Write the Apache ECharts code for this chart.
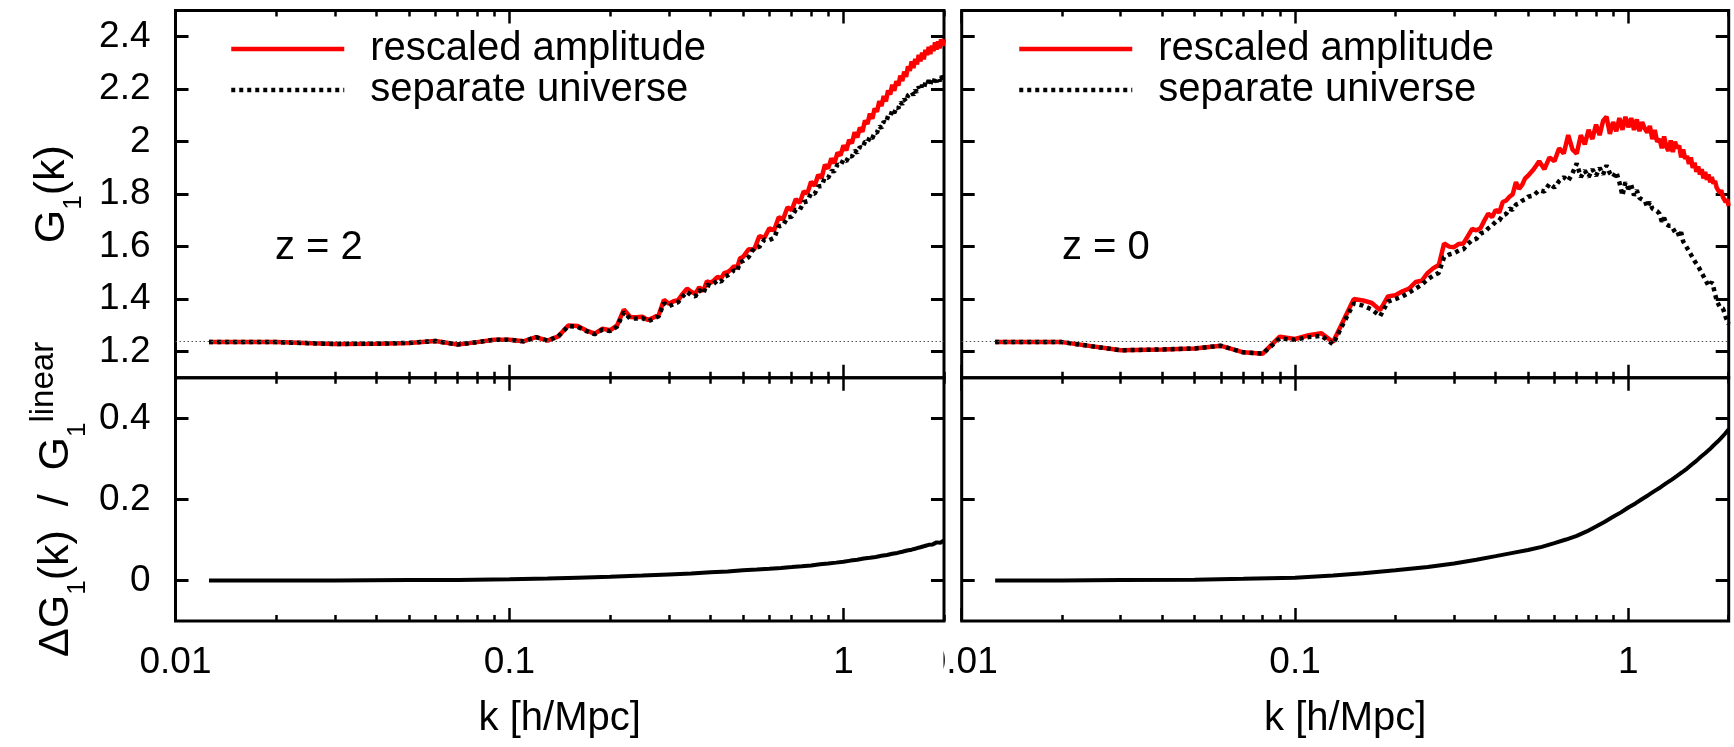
<!DOCTYPE html>
<html><head><meta charset="utf-8">
<script src="https://cdn.jsdelivr.net/npm/echarts@6/dist/echarts.min.js"></script>
<style>html,body{margin:0;padding:0;background:#fff}#c{width:1734px;height:747px}</style>
</head><body><div id="c"></div>
<script>
// ---- data ----
const K = [0.0126,0.02,0.03,0.04,0.05,0.06,0.07,0.08,0.09,0.10,
 0.11,0.12,0.13,0.14,0.15,0.16,0.17,0.18,0.19,0.20,
 0.21,0.22,0.23,0.24,0.25,0.26,0.27,0.28,0.29,0.30,
 0.31,0.32,0.33,0.34,0.35,0.36,0.37,0.38,0.39,0.40,
 0.41,0.42,0.43,0.44,0.45,0.46,0.47,0.48,0.49,0.50,
 0.52,0.54,0.56,0.58,0.60,0.62,0.64,0.66,0.68,0.70,
 0.72,0.74,0.76,0.78,0.80,0.82,0.84,0.86,0.88,0.90,
 0.92,0.94,0.96,0.98,1.00,1.02,1.04,1.06,1.08,1.10,
 1.12,1.14,1.16,1.18,1.20,1.22,1.24,1.26,1.28,1.30,
 1.32,1.34,1.36,1.38,1.40,1.42,1.44,1.46,1.48,1.50,
 1.52,1.54,1.56,1.58,1.60,1.62,1.64,1.66,1.68,1.70,
 1.72,1.74,1.76,1.78,1.80,1.82,1.84,1.86,1.88,1.90,
 1.92,1.94,1.96,1.98,2.00];

const TL_RESCALED = [1.236,1.236,1.229,1.230,1.233,1.240,1.227,1.236,1.245,1.245,
 1.239,1.255,1.242,1.258,1.299,1.297,1.280,1.268,1.287,1.281,
 1.300,1.360,1.332,1.331,1.333,1.320,1.330,1.340,1.397,1.382,
 1.392,1.396,1.420,1.440,1.428,1.420,1.445,1.430,1.468,1.462,
 1.472,1.485,1.478,1.500,1.503,1.512,1.525,1.518,1.555,1.560,
 1.590,1.588,1.640,1.634,1.670,1.662,1.712,1.705,1.750,1.739,
 1.781,1.767,1.810,1.804,1.847,1.832,1.873,1.862,1.912,1.898,
 1.936,1.918,1.958,1.948,1.986,1.967,2.007,1.994,2.036,2.016,
 2.054,2.038,2.081,2.067,2.107,2.087,2.126,2.114,2.154,2.136,
 2.174,2.154,2.195,2.180,2.217,2.194,2.230,2.214,2.252,2.231,
 2.267,2.247,2.287,2.270,2.306,2.281,2.315,2.295,2.331,2.306,
 2.339,2.314,2.350,2.330,2.361,2.334,2.366,2.345,2.378,2.351,
 2.382,2.356,2.390,2.366,2.390];

const TL_SEPARATE = [1.236,1.236,1.229,1.230,1.233,1.240,1.227,1.236,1.245,1.245,
 1.239,1.255,1.242,1.258,1.297,1.294,1.278,1.266,1.284,1.278,
 1.295,1.350,1.325,1.326,1.328,1.315,1.325,1.335,1.385,1.372,
 1.382,1.388,1.410,1.428,1.415,1.410,1.435,1.420,1.455,1.450,
 1.460,1.472,1.466,1.485,1.490,1.498,1.510,1.505,1.540,1.545,
 1.560,1.596,1.599,1.627,1.625,1.633,1.677,1.682,1.712,1.714,
 1.741,1.740,1.769,1.773,1.804,1.801,1.829,1.831,1.864,1.862,
 1.888,1.887,1.913,1.909,1.932,1.925,1.947,1.943,1.966,1.958,
 1.980,1.975,2.000,1.996,2.019,2.012,2.036,2.034,2.059,2.052,
 2.077,2.071,2.098,2.095,2.120,2.109,2.132,2.127,2.151,2.142,
 2.163,2.153,2.176,2.169,2.189,2.177,2.197,2.188,2.210,2.197,
 2.216,2.204,2.225,2.217,2.234,2.219,2.236,2.225,2.243,2.227,
 2.245,2.230,2.251,2.238,2.251];

const TR_RESCALED = [1.236,1.236,1.205,1.208,1.212,1.222,1.197,1.192,1.257,1.248,
 1.262,1.270,1.236,1.320,1.400,1.395,1.385,1.358,1.410,1.415,
 1.430,1.440,1.465,1.470,1.500,1.518,1.530,1.612,1.600,1.598,
 1.610,1.612,1.640,1.668,1.662,1.670,1.700,1.726,1.712,1.740,
 1.730,1.770,1.776,1.790,1.800,1.846,1.820,1.835,1.860,1.870,
 1.895,1.925,1.895,1.940,1.925,1.975,1.955,2.025,1.970,1.955,
 2.025,1.990,2.045,2.010,2.065,2.025,2.080,2.095,2.030,2.075,
 2.040,2.090,2.045,2.095,2.055,2.090,2.045,2.085,2.040,2.075,
 2.050,2.035,2.060,2.010,2.045,2.000,2.010,1.975,2.020,1.980,
 1.965,2.005,1.960,2.000,1.975,1.985,1.940,1.970,1.935,1.945,
 1.915,1.940,1.900,1.920,1.885,1.905,1.875,1.895,1.860,1.885,
 1.855,1.875,1.845,1.865,1.840,1.850,1.825,1.830,1.805,1.815,
 1.790,1.795,1.770,1.780,1.755];

const TR_SEPARATE = [1.236,1.236,1.205,1.208,1.212,1.222,1.197,1.192,1.250,1.245,
 1.255,1.260,1.228,1.310,1.383,1.375,1.360,1.335,1.390,1.400,
 1.410,1.425,1.440,1.455,1.475,1.490,1.500,1.560,1.570,1.575,
 1.585,1.590,1.610,1.625,1.630,1.650,1.655,1.670,1.680,1.695,
 1.700,1.720,1.725,1.745,1.740,1.760,1.765,1.775,1.780,1.790,
 1.795,1.815,1.810,1.840,1.825,1.850,1.865,1.850,1.880,1.917,
 1.865,1.890,1.865,1.895,1.870,1.900,1.875,1.910,1.880,1.865,
 1.885,1.845,1.795,1.845,1.820,1.835,1.795,1.815,1.785,1.780,
 1.775,1.750,1.770,1.745,1.740,1.735,1.725,1.695,1.710,1.685,
 1.680,1.680,1.670,1.655,1.660,1.640,1.655,1.620,1.620,1.595,
 1.600,1.570,1.570,1.545,1.550,1.525,1.525,1.500,1.495,1.475,
 1.470,1.450,1.450,1.465,1.445,1.420,1.395,1.390,1.370,1.365,
 1.365,1.350,1.330,1.325,1.305];

const KB = [0.0126,0.02,0.03,0.05,0.07,0.10,0.13,0.16,0.20,0.25,
 0.30,0.35,0.40,0.45,0.50,0.55,0.60,0.65,0.70,0.75,
 0.80,0.85,0.90,0.95,1.00,1.05,1.10,1.15,1.20,1.25,
 1.30,1.35,1.40,1.45,1.50,1.55,1.60,1.65,1.70,1.75,
 1.80,1.85,1.90,1.95,2.00];
const BL_DIFF = [0.000,0.000,0.000,0.001,0.001,0.003,0.005,0.007,0.009,0.012,
 0.015,0.017,0.020,0.022,0.025,0.027,0.029,0.031,0.033,0.035,
 0.037,0.040,0.042,0.044,0.046,0.049,0.051,0.054,0.056,0.058,
 0.061,0.063,0.066,0.068,0.071,0.074,0.076,0.079,0.082,0.085,
 0.088,0.089,0.094,0.093,0.099];
const BR_DIFF = [0.000,0.000,0.001,0.002,0.004,0.007,0.012,0.018,0.025,0.033,
 0.042,0.051,0.060,0.068,0.075,0.083,0.092,0.101,0.110,0.121,
 0.133,0.145,0.157,0.168,0.180,0.190,0.201,0.211,0.221,0.230,
 0.240,0.249,0.258,0.267,0.276,0.286,0.295,0.305,0.314,0.323,
 0.333,0.342,0.352,0.362,0.373];

const G_LINEAR = 1.2355;
const X_MAJOR = [0.01, 0.1, 1];
const X_MINOR = [0.02,0.03,0.04,0.05,0.06,0.07,0.08,0.09,0.2,0.3,0.4,0.5,0.6,0.7,0.8,0.9,2];
const Y_TOP_TICKS = [1.2,1.4,1.6,1.8,2.0,2.2,2.4];
const Y_BOT_TICKS = [0,0.2,0.4];
const SERIES_NAMES = ['rescaled amplitude','separate universe'];
const PANEL_LABELS = ['z = 2','z = 0'];
const X_TITLE = 'k [h/Mpc]';

// ---- chart ----
const FONT = '"Liberation Sans", Arial, Helvetica, sans-serif';
const LOG_MIN = Math.log10(0.01), LOG_MAX = Math.log10(2);
const zip = (xs, ys) => xs.map((x, i) => [x, ys[i]]);
const fmt = v => String(parseFloat(Number(v).toPrecision(4)));

const gridRects = [
  {left:175.5, top:10.5, width:768.5, height:367.3},
  {left:175.5, top:377.8, width:768.5, height:243.2},
  {left:961.7, top:10.5, width:767, height:367.3},
  {left:961.7, top:377.8, width:767, height:243.2}
];
const grid = gridRects.map(g => Object.assign({show:true, borderColor:'#000', borderWidth:3,
  backgroundColor:'rgba(0,0,0,0)', containLabel:false, outerBoundsMode:'none'}, g));

const richTop = {
  m:{fontSize:43, lineHeight:43, verticalAlign:'top', fontFamily:FONT, color:'#000', padding:[0,0,0,0]},
  s:{fontSize:26, lineHeight:26, verticalAlign:'top', fontFamily:FONT, color:'#000', padding:[30,0,0,0]}
};
const richBot = {
  m:{fontSize:43, lineHeight:43, verticalAlign:'top', fontFamily:FONT, color:'#000', padding:[7,0,0,0]},
  s:{fontSize:26, lineHeight:26, verticalAlign:'top', fontFamily:FONT, color:'#000', padding:[37,0,0,0]},
  p:{fontSize:33, lineHeight:33, verticalAlign:'top', fontFamily:FONT, color:'#000', padding:[0,0,0,0]}
};

const xAxis = [], yAxis = [], dataX = [], dataY = [];
gridRects.forEach((g, gi) => {
  const isBottom = gi % 2 === 1;
  const isLeft = gi < 2;
  dataX[gi] = xAxis.length;
  xAxis.push({type:'log', logBase:10, gridIndex:gi, min:0.01, max:2, position:'bottom',
    axisLine:{show:false, onZero:false}, axisTick:{show:false}, splitLine:{show:false}, minorTick:{show:false},
    axisLabel:{show:isBottom, margin:23, fontSize:37, fontFamily:FONT, color:'#000',
      showMinLabel:true, showMaxLabel:false, formatter: v => fmt(v)},
    name: isBottom ? X_TITLE : '', nameLocation:'middle', nameGap:78,
    nameTextStyle:{fontSize:40, fontFamily:FONT, color:'#000'}});
  ['bottom','top'].forEach(pos => {
    [[X_MAJOR, 13], [X_MINOR, 6]].forEach(([vals, len]) => {
      xAxis.push({type:'value', gridIndex:gi, min:LOG_MIN, max:LOG_MAX, position:pos,
        axisLine:{show:false, onZero:false}, axisLabel:{show:false}, splitLine:{show:false},
        axisTick:{show:true, inside:true, length:len, customValues: vals.map(Math.log10),
          lineStyle:{color:'#000', width:2.5}}});
    });
  });
  const isTop = !isBottom;
  const yr = isTop ? [1.1, 2.5] : [-0.1, 0.5];
  const ticks = isTop ? Y_TOP_TICKS : Y_BOT_TICKS;
  dataY[gi] = yAxis.length;
  yAxis.push({type:'value', gridIndex:gi, min:yr[0], max:yr[1], position:'left',
    axisLine:{show:false, onZero:false}, splitLine:{show:false},
    axisTick:{show:true, inside:true, length:13, customValues:ticks, lineStyle:{color:'#000', width:3}},
    axisLabel:{show:isLeft, customValues:ticks, margin:25, fontSize:37, fontFamily:FONT, color:'#000', formatter: v => fmt(v)},
    name: isLeft ? (isTop ? '{m|G}{s|1}{m|(k)}' : '{m|\u0394G}{s|1}{m|(k)  /  G}{s|1}{p|linear}') : '',
    nameLocation:'middle', nameRotate:90, nameGap: isTop ? 102 : 105,
    nameTextStyle:{fontSize:43, fontFamily:FONT, color:'#000', rich: isTop ? richTop : richBot}});
  yAxis.push({type:'value', gridIndex:gi, min:yr[0], max:yr[1], position:'right',
    axisLine:{show:false, onZero:false}, splitLine:{show:false}, axisLabel:{show:false},
    axisTick:{show:true, inside:true, length:13, customValues:ticks, lineStyle:{color:'#000', width:3}}});
});

const base = {type:'line', symbol:'none', showSymbol:false, animation:false, clip:true, smooth:false};
const refLine = {silent:true, symbol:['none','none'], label:{show:false}, animation:false,
  lineStyle:{color:'#555', width:1, type:[1.5,2.5]}, emphasis:{disabled:true}, data:[{yAxis:G_LINEAR}]};
const red = {color:'#ff0000', width:4.5};
const dots = {color:'#000', width:4.5, type:[4,4]};
const series = [
  Object.assign({}, base, {name:SERIES_NAMES[0], xAxisIndex:dataX[0], yAxisIndex:dataY[0], data:zip(K, TL_RESCALED), lineStyle:red, itemStyle:{color:'#ff0000'}, z:3, markLine:refLine}),
  Object.assign({}, base, {name:SERIES_NAMES[1], xAxisIndex:dataX[0], yAxisIndex:dataY[0], data:zip(K, TL_SEPARATE), lineStyle:dots, itemStyle:{color:'#000'}, z:4}),
  Object.assign({}, base, {name:SERIES_NAMES[0], xAxisIndex:dataX[2], yAxisIndex:dataY[2], data:zip(K, TR_RESCALED), lineStyle:red, itemStyle:{color:'#ff0000'}, z:3, markLine:refLine}),
  Object.assign({}, base, {name:SERIES_NAMES[1], xAxisIndex:dataX[2], yAxisIndex:dataY[2], data:zip(K, TR_SEPARATE), lineStyle:dots, itemStyle:{color:'#000'}, z:4}),
  Object.assign({}, base, {name:'\u0394G1/G1 (z = 2)', xAxisIndex:dataX[1], yAxisIndex:dataY[1], data:zip(KB, BL_DIFF), lineStyle:{color:'#000', width:4}, itemStyle:{color:'#000'}}),
  Object.assign({}, base, {name:'\u0394G1/G1 (z = 0)', xAxisIndex:dataX[3], yAxisIndex:dataY[3], data:zip(KB, BR_DIFF), lineStyle:{color:'#000', width:4}, itemStyle:{color:'#000'}})
];

const legendBase = {data:SERIES_NAMES, orient:'vertical', top:23.5, itemWidth:113, itemHeight:14, itemGap:0,
  selectedMode:false, itemStyle:{opacity:0}, lineStyle:{width:4.5},
  textStyle:{fontSize:40, lineHeight:41, fontFamily:FONT, color:'#000', padding:[0,0,0,21]}};
const legend = [Object.assign({}, legendBase, {left:224}), Object.assign({}, legendBase, {left:1012})];

const graphic = [
  {type:'text', x:275, y:248, z:50, style:{text:PANEL_LABELS[0], fontSize:40, fontFamily:FONT, fill:'#000', verticalAlign:'middle'}},
  {type:'text', x:1062, y:248, z:50, style:{text:PANEL_LABELS[1], fontSize:40, fontFamily:FONT, fill:'#000', verticalAlign:'middle'}},
  {type:'rect', z:100, shape:{x:900, y:632, width:43.5, height:70}, style:{fill:'#fff'}}
];

const chart = echarts.init(document.getElementById('c'), null, {renderer:'canvas'});
chart.setOption({animation:false, backgroundColor:'#fff', grid, xAxis, yAxis, series, legend, graphic});
</script>
</body></html>
